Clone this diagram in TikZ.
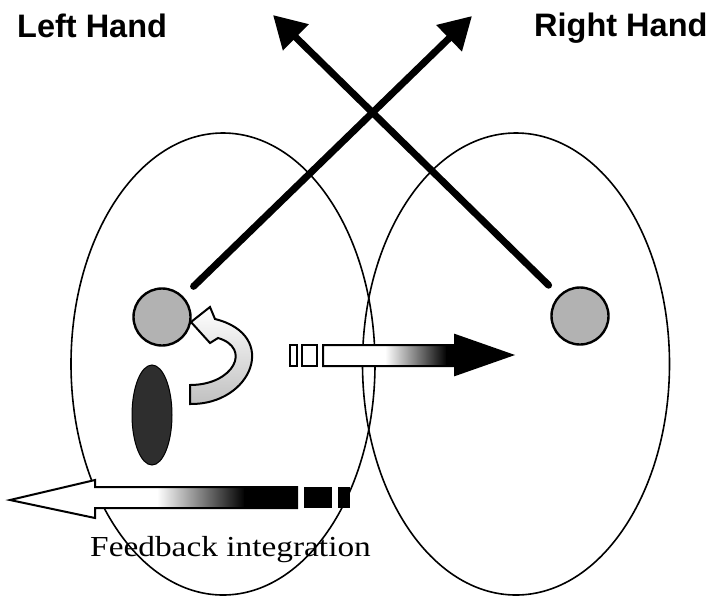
\documentclass[tikz,border=0pt]{standalone}
\usepackage{fontspec}
\setmainfont{Liberation Serif}
\newfontfamily\hfont{Liberation Sans}
\usetikzlibrary{arrows.meta,calc,shapes.geometric}
\begin{document}
\begin{tikzpicture}[x=1pt,y=-1pt,
  brain/.style={draw, ellipse, line width=1.6pt, inner sep=0pt},
  dot/.style={draw, circle, line width=2.4pt, fill=black!30, minimum size=57pt, inner sep=0pt},
  cross/.style={line width=7pt, line cap=round, -{Triangle[length=32pt,width=35pt]}},
  outl/.style={line width=2pt, line join=miter},
  hand/.style={font=\hfont\bfseries\fontsize{32.5}{36}\selectfont, inner sep=0pt}]
\useasboundingbox (0,0) rectangle (709,598);
% hemispheres
\node[brain, minimum width=304pt, minimum height=462pt] (le) at (223,364) {};
\node[brain, minimum width=307pt, minimum height=462pt] (re) at (516,364) {};
% labels
\node[hand, anchor=base west] (lh) at (17,37) {Left Hand};
\node[hand, anchor=base west] (rh) at (534,36) {Right Hand};
% circles
\node[dot] (lc) at (162,317) {};
\node[dot] (rc) at (580,316) {};
\coordinate (lt) at (273,15);
\coordinate (rt) at (472,16);
\draw[cross] ($(lc)!44pt!(rt)$) -- (rt);
\draw[cross] ($(rc)!44pt!(lt)$) -- (lt);
% dark ellipse
\node[ellipse, draw, line width=1pt, fill=black!82, minimum width=40pt, minimum height=100pt, inner sep=0pt] (dk) at (152,415) {};
% curved arrow
\draw[outl, top color=white, bottom color=black!25]
  (190,404) .. controls (252,405) and (280,335) .. (215,319)
  -- (210,307) -- (191,322) -- (210,343) -- (218,338)
  .. controls (252,348) and (234,385) .. (190,385) -- cycle;
% transfer arrow to the right
\draw[outl, fill=white] (290,345) rectangle (297,366);
\draw[outl, fill=white] (302,345) rectangle (317,366);
\fill[white] (323,345) rectangle (385,366);
\shade[left color=white, right color=black] (385,345) rectangle (447,366);
\fill[black] (446,345) rectangle (456,366);
\fill[black] (455,335) -- (512,355) -- (455,375) -- cycle;
\draw[outl] (323,345) -- (455,345) -- (455,335) -- (512,355) -- (455,375) -- (455,366) -- (323,366) -- cycle;
% feedback arrow to the left
\fill[white] (10,500) -- (95,480) -- (95,487) -- (158,487) -- (158,508) -- (95,508) -- (95,518) -- cycle;
\shade[left color=white, right color=black] (157,487) rectangle (245,508);
\fill[black] (244,487) rectangle (297,508);
\draw[outl] (297,487) -- (95,487) -- (95,480) -- (10,500) -- (95,518) -- (95,508) -- (297,508) -- cycle;
\fill[black] (304,487) rectangle (332,508);
\fill[black] (338,487) rectangle (350,508);
\node[anchor=base west, inner sep=0pt, xscale=1.15, font=\fontsize{29}{33}\selectfont] (fb) at (90,556) {Feedback integration};
\end{tikzpicture}
\end{document}
